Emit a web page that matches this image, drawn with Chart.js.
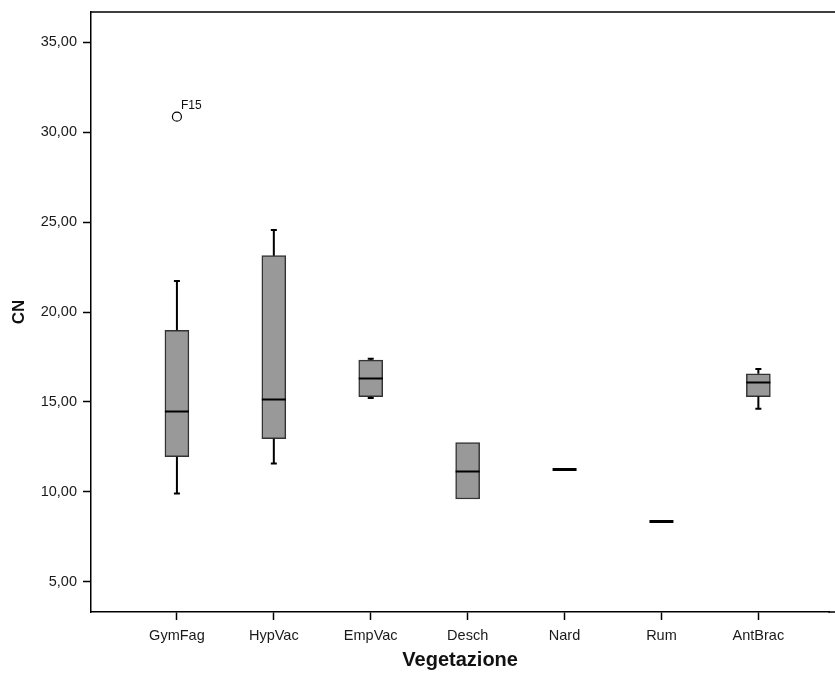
<!DOCTYPE html>
<html>
<head>
<meta charset="utf-8">
<title>CN per vegetazione</title>
<script src="https://cdn.jsdelivr.net/npm/chart.js@4.4.1/dist/chart.umd.min.js"></script>
<style>
  html, body { margin: 0; padding: 0; background: #ffffff; }
  #box { display: block; }
</style>
</head>
<body>
<canvas id="box" width="835" height="675"></canvas>
<script>
// categorie e statistiche del boxplot (CN)
var VEGETAZIONE = ["GymFag", "HypVac", "EmpVac", "Desch", "Nard", "Rum", "AntBrac"];
var BAFFO_INF  = [9.91, 11.59, 15.22, 9.61, 11.28, 8.41, 14.63];
var Q1         = [11.96, 12.96, 15.30, 9.61, 11.28, 8.41, 15.30];
var MEDIANA    = [14.50, 15.15, 16.31, 11.17, 11.28, 8.41, 16.13];
var Q3         = [18.98, 23.13, 17.33, 12.74, 11.28, 8.41, 16.57];
var BAFFO_SUP  = [21.72, 24.56, 17.40, 12.74, 11.28, 8.41, 16.83];

// valori anomali
var ANOMALI_CAT   = ["GymFag"];
var ANOMALI_VAL   = [30.85];
var ANOMALI_ETICH = ["F15"];

var TICK_Y = [5, 10, 15, 20, 25, 30, 35];

var FONT = "'Liberation Sans', Arial, sans-serif";

var scatole = VEGETAZIONE.map(function (c, i) {
    return { x: i + 1, y: [Q1[i], Q3[i]] };
});
var anomali = ANOMALI_CAT.map(function (c, i) {
    return { x: VEGETAZIONE.indexOf(c) + 1, y: ANOMALI_VAL[i] };
});

// baffi, mediane, cornice ed etichette degli anomali
var disegnaBoxplot = {
    id: "disegnaBoxplot",
    afterDatasetsDraw: function (chart) {
        var ctx = chart.ctx;
        var x = chart.scales.x, y = chart.scales.y;
        var area = chart.chartArea;
        var mezza = 12, cappa = 3;
        ctx.save();
        ctx.strokeStyle = "#000";
        ctx.lineCap = "butt";
        VEGETAZIONE.forEach(function (c, i) {
            var px = x.getPixelForValue(i + 1);
            ctx.lineWidth = 2;
            if (BAFFO_SUP[i] > Q3[i]) {
                ctx.beginPath();
                ctx.moveTo(px, y.getPixelForValue(Q3[i]));
                ctx.lineTo(px, y.getPixelForValue(BAFFO_SUP[i]));
                ctx.moveTo(px - cappa, y.getPixelForValue(BAFFO_SUP[i]));
                ctx.lineTo(px + cappa, y.getPixelForValue(BAFFO_SUP[i]));
                ctx.stroke();
            }
            if (BAFFO_INF[i] < Q1[i]) {
                ctx.beginPath();
                ctx.moveTo(px, y.getPixelForValue(Q1[i]));
                ctx.lineTo(px, y.getPixelForValue(BAFFO_INF[i]));
                ctx.moveTo(px - cappa, y.getPixelForValue(BAFFO_INF[i]));
                ctx.lineTo(px + cappa, y.getPixelForValue(BAFFO_INF[i]));
                ctx.stroke();
            }
            ctx.lineWidth = Q1[i] === Q3[i] ? 3 : 2;
            var pm = Math.round(y.getPixelForValue(MEDIANA[i])) + 0.5;
            ctx.beginPath();
            ctx.moveTo(px - mezza, pm);
            ctx.lineTo(px + mezza, pm);
            ctx.stroke();
        });

        // cornice: bordo superiore e asse x fino al margine destro
        ctx.lineWidth = 1.5;
        ctx.beginPath();
        ctx.moveTo(area.left, area.top);
        ctx.lineTo(chart.width, area.top);
        ctx.moveTo(area.right - 1, area.bottom);
        ctx.lineTo(chart.width, area.bottom);
        ctx.stroke();

        ctx.fillStyle = "#111";
        ctx.font = "12px " + FONT;
        ctx.textBaseline = "alphabetic";
        ANOMALI_CAT.forEach(function (c, i) {
            var px = x.getPixelForValue(VEGETAZIONE.indexOf(c) + 1);
            var py = y.getPixelForValue(ANOMALI_VAL[i]);
            ctx.fillText(ANOMALI_ETICH[i], px + 4, py - 8);
        });
        ctx.restore();
    }
};

var ctx = document.getElementById("box").getContext("2d");
new Chart(ctx, {
    type: "bar",
    data: {
        datasets: [
            {
                type: "bar",
                label: "CN",
                data: scatole,
                backgroundColor: "#999999",
                borderColor: "#333333",
                borderWidth: 1.5,
                borderSkipped: false,
                barThickness: 24,
                grouped: false
            },
            {
                type: "scatter",
                label: "Anomali",
                data: anomali,
                pointStyle: "circle",
                pointRadius: 4.5,
                backgroundColor: "#ffffff",
                borderColor: "#000000",
                borderWidth: 1.2
            }
        ]
    },
    options: {
        responsive: false,
        animation: false,
        devicePixelRatio: 1,
        layout: { padding: { top: 12, right: 0, left: 0, bottom: 0 } },
        plugins: {
            legend: { display: false },
            tooltip: { enabled: false }
        },
        scales: {
            x: {
                type: "linear",
                offset: false,
                min: 0.1134,
                max: 7.732,
                afterBuildTicks: function (s) {
                    s.ticks = VEGETAZIONE.map(function (c, i) { return { value: i + 1 }; });
                },
                afterFit: function (s) {
                    s.height = 63;
                    s.paddingLeft = 0;
                    s.paddingRight = 0;
                },
                grid: {
                    offset: false,
                    drawOnChartArea: false,
                    tickLength: 8,
                    tickColor: "#000",
                    tickWidth: 1.5
                },
                border: { display: true, color: "#000", width: 1.5 },
                ticks: {
                    color: "#1a1a1a",
                    padding: 7,
                    autoSkip: false,
                    maxRotation: 0,
                    font: { family: FONT, size: 14.5 },
                    callback: function (v) { return VEGETAZIONE[v - 1]; }
                },
                title: {
                    display: true,
                    text: "Vegetazione",
                    color: "#111",
                    font: { family: FONT, size: 20, weight: "bold" },
                    padding: { top: 0, bottom: 3 }
                }
            },
            y: {
                type: "linear",
                min: 3.333,
                max: 36.667,
                afterBuildTicks: function (s) {
                    s.ticks = TICK_Y.map(function (v) { return { value: v }; });
                },
                afterFit: function (s) {
                    s.width = 91;
                    s.paddingTop = 0;
                    s.paddingBottom = 0;
                },
                grid: {
                    drawOnChartArea: false,
                    tickLength: 8,
                    tickColor: "#000",
                    tickWidth: 1.5
                },
                border: { display: true, color: "#000", width: 1.5 },
                ticks: {
                    color: "#1a1a1a",
                    padding: 6,
                    font: { family: FONT, size: 14.5 },
                    callback: function (v) { return v.toFixed(2).replace(".", ","); }
                },
                title: {
                    display: true,
                    text: "CN",
                    color: "#111",
                    font: { family: FONT, size: 17, weight: "bold" },
                    padding: { top: 9, bottom: 0 }
                }
            }
        }
    },
    plugins: [disegnaBoxplot]
});
</script>
</body>
</html>
